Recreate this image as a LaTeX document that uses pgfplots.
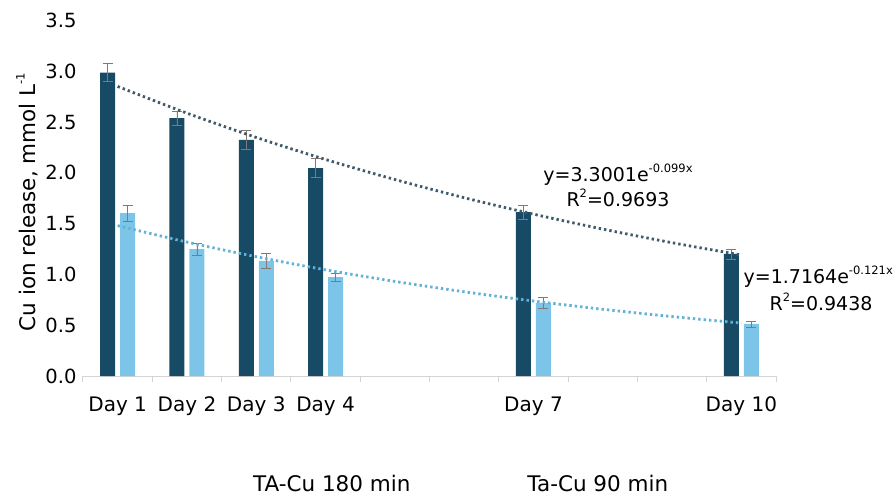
\documentclass[border=0pt]{standalone}
\usepackage{fontspec}
\setmainfont{DejaVu Sans}
\usepackage{pgfplots}
\pgfplotsset{compat=1.18}
\definecolor{darkbar}{HTML}{174A65}
\definecolor{lightbar}{HTML}{7CC5E8}
\definecolor{darktrend}{HTML}{3E5A6B}
\definecolor{lighttrend}{HTML}{62B2D6}
\definecolor{errc}{HTML}{857870}
\definecolor{axc}{HTML}{D4D4D4}
\newcommand{\sups}[1]{\raisebox{0.5em}{\fontsize{11.5}{12}\selectfont #1}}
\begin{document}
\begin{tikzpicture}[font=\fontsize{19}{22}\selectfont]
\begin{axis}[
  scale only axis, width=693pt, height=355.6pt,
  xmin=0.5, xmax=10.5, ymin=0, ymax=3.5,
  axis x line*=bottom, axis y line*=left,
  y axis line style={draw=none},
  x axis line style={axc, line width=1pt},
  xtick={1,2,3,4,7,10},
  xticklabels={Day 1,Day 2,Day 3,Day 4,Day 7,Day 10},
  major x tick style={draw=none},
  minor xtick={0.5,1.5,...,10.5},
  minor x tick style={axc, line width=1pt},
  minor tick length=6pt,
  xtick align=outside,
  xticklabel style={yshift=-13pt, font=\fontsize{20}{24}\selectfont},
  ytick={0,0.5,...,3.5},
  major y tick style={draw=none},
  /pgf/number format/assume math mode=true,
  yticklabel style={xshift=-3pt, font=\fontsize{19.5}{24}\selectfont,
    /pgf/number format/.cd, fixed, fixed zerofill, precision=1},
  ylabel={Cu ion release, mmol L\sups{-1}},
  ylabel style={at={(axis description cs:-0.0808,0.489)}, anchor=center,
    font=\fontsize{21.5}{24}\selectfont},
  clip=false,
  legend image code/.code={},
  legend style={draw=none, fill=none, legend columns=2,
    font=\fontsize{21.5}{24}\selectfont,
    at={(0.238,-0.3037)}, anchor=west,
    /tikz/every even column/.append style={column sep=113pt}},
]
\coordinate (O) at (rel axis cs:0,0);
\addplot[ybar, bar width=15pt, bar shift=0pt, xshift=-10pt, fill=darkbar, draw=none,
  error bars/.cd, y dir=both, y explicit,
  error bar style={errc, line width=0.8pt},
  error mark options={errc, rotate=90, mark size=5pt, line width=0.8pt}]
  coordinates {(1,2.985) +- (0,0.09) (2,2.539) +- (0,0.07) (3,2.323) +- (0,0.09)
               (4,2.047) +- (0,0.09) (7,1.614) +- (0,0.07) (10,1.201) +- (0,0.05)};
\addlegendentry{TA-Cu 180 min}
\addplot[ybar, bar width=15pt, bar shift=0pt, xshift=10pt, fill=lightbar, draw=none,
  error bars/.cd, y dir=both, y explicit,
  error bar style={errc, line width=0.8pt},
  error mark options={errc, rotate=90, mark size=5pt, line width=0.8pt}]
  coordinates {(1,1.604) +- (0,0.08) (2,1.250) +- (0,0.06) (3,1.132) +- (0,0.07)
               (4,0.974) +- (0,0.04) (7,0.719) +- (0,0.05) (10,0.512) +- (0,0.03)};
\addlegendentry{Ta-Cu 90 min}
\addplot[forget plot, darktrend, line width=2.8pt, dash pattern=on 2.4pt off 3pt, smooth]
  coordinates {(1,2.850) (2,2.587) (3,2.348) (4,2.131) (5,1.934) (6,1.755)
               (7,1.593) (8,1.446) (9,1.312) (10,1.191)};
\addplot[forget plot, lighttrend, line width=2.8pt, dash pattern=on 2.4pt off 3pt, smooth]
  coordinates {(1,1.480) (2,1.318) (3,1.174) (4,1.045) (5,0.931) (6,0.829)
               (7,0.738) (8,0.657) (9,0.585) (10,0.521)};
\node[anchor=base] at (axis cs:8.22,1.91) {y=3.3001e\sups{-0.099x}};
\node[anchor=base] at (axis cs:8.22,1.664) {R\sups{2}=0.9693};
\node[anchor=base west, inner sep=0pt] at (axis cs:10.03,0.906) {y=1.7164e\sups{-0.121x}};
\node[anchor=base] at (axis cs:11.15,0.64) {R\sups{2}=0.9438};
\end{axis}
\pgfresetboundingbox
\path[use as bounding box] ([shift={(-83pt,-120pt)}]O) rectangle ([shift={(813pt,376pt)}]O);
\end{tikzpicture}
\end{document}
